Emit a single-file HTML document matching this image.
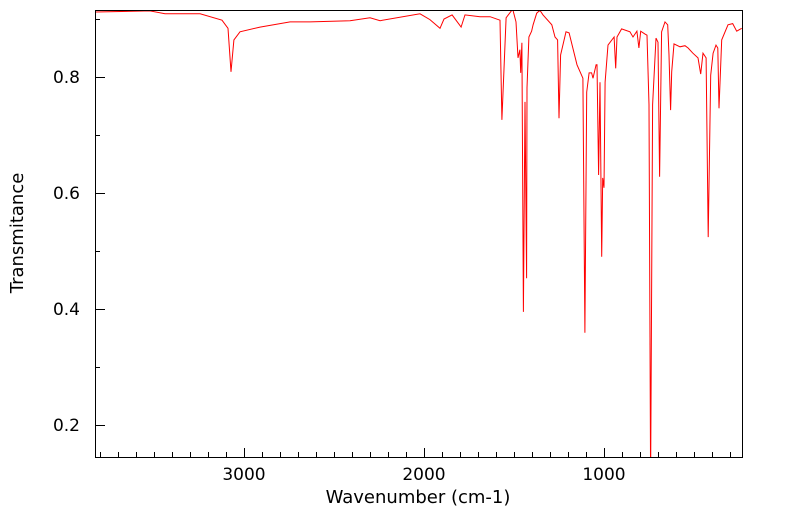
<!DOCTYPE html>
<html><head><meta charset="utf-8"><style>
html,body{margin:0;padding:0;background:#fff;}
svg{display:block;font-family:"DejaVu Sans","Liberation Sans",sans-serif;}
</style></head><body>
<svg id="chart" width="799" height="516" viewBox="0 0 799 516" xmlns="http://www.w3.org/2000/svg">
<rect x="95.5" y="10.5" width="647" height="447" fill="none" stroke="#000" stroke-width="1"/>
<g id="ticks"></g>
<g id="labels"></g>
<clipPath id="clip"><rect x="96" y="11" width="646" height="446"/></clipPath>
<path id="spec" fill="none" stroke="#ff0000" stroke-width="1" clip-path="url(#clip)"/>
<text x="418" y="503" text-anchor="middle" font-size="18">Wavenumber (cm-1)</text>
<text x="23" y="233" text-anchor="middle" font-size="18" transform="rotate(-90 23 233)">Transmitance</text>
</svg>
<script>
const wavenumbers = [3828,3522,3439,3244,3122,3089,3072,3056,3022,2911,2744,2633,2411,2300,2244,2022,1967,1911,1889,1844,1794,1772,1689,1633,1578,1567,1544,1507,1489,1478,1467,1463,1456,1448,1439,1430,1428,1417,1402,1394,1374,1356,1339,1290,1272,1258,1250,1241,1211,1194,1150,1117,1106,1096,1083,1069,1061,1044,1039,1030,1022,1013,1007,1000,994,978,944,935,928,911,902,856,839,817,806,796,772,761,750,741,730,711,700,691,680,661,646,639,630,624,611,578,550,533,506,478,463,450,433,421,407,394,378,368,361,346,311,285,263,235];
const transmittance = [0.912,0.914,0.909,0.909,0.898,0.884,0.809,0.864,0.878,0.886,0.895,0.895,0.897,0.902,0.897,0.909,0.899,0.884,0.900,0.907,0.886,0.907,0.904,0.904,0.898,0.726,0.902,0.917,0.895,0.833,0.847,0.807,0.859,0.395,0.757,0.453,0.781,0.869,0.879,0.890,0.910,0.915,0.907,0.890,0.869,0.864,0.729,0.838,0.878,0.876,0.821,0.798,0.359,0.774,0.807,0.807,0.798,0.821,0.821,0.631,0.791,0.490,0.626,0.609,0.791,0.855,0.869,0.815,0.869,0.878,0.883,0.878,0.869,0.879,0.850,0.879,0.874,0.872,0.752,0.100,0.752,0.867,0.860,0.628,0.878,0.895,0.890,0.838,0.743,0.809,0.857,0.852,0.854,0.850,0.841,0.833,0.805,0.841,0.833,0.524,0.803,0.841,0.855,0.850,0.746,0.864,0.890,0.892,0.879,0.884];
const xMajor = [3000,2000,1000];
const yMajor = [0.2,0.4,0.6,0.8];
const X = w => 244 + (3000 - w) * 0.18;
const Y = t => 77 + (0.8 - t) * 580;
const NS = "http://www.w3.org/2000/svg";
let d = "";
for (let i = 0; i < wavenumbers.length; i++) d += (i ? "L" : "M") + X(wavenumbers[i]).toFixed(1) + " " + Y(transmittance[i]).toFixed(1);
document.getElementById("spec").setAttribute("d", d);
const tg = document.getElementById("ticks"), lg = document.getElementById("labels");
function line(x1,y1,x2,y2){const l=document.createElementNS(NS,"line");l.setAttribute("x1",x1);l.setAttribute("y1",y1);l.setAttribute("x2",x2);l.setAttribute("y2",y2);l.setAttribute("stroke","#000");l.setAttribute("stroke-width","1");


tg.appendChild(l);}
for (let w = 3800; w >= 300; w -= 100) { const x = Math.round(X(w)) + 0.5; const major = w % 1000 === 0; line(x, 457, x, major ? 448 : 452); }
for (let t = 0.2; t <= 0.91; t += 0.1) { const y = Math.round(Y(t)) + 0.5; const major = Math.round(t*10) % 2 === 0; line(96, y, major ? 105 : 100, y); }
xMajor.forEach(w => { const t=document.createElementNS(NS,"text"); t.setAttribute("x",X(w)); t.setAttribute("y",480); t.setAttribute("text-anchor","middle"); t.setAttribute("font-size","17"); t.textContent=w;


lg.appendChild(t); });
yMajor.forEach(v => { const t=document.createElementNS(NS,"text"); t.setAttribute("x",80); t.setAttribute("y",Y(v)+6); t.setAttribute("text-anchor","end"); t.setAttribute("font-size","17"); t.textContent=v.toFixed(1);


lg.appendChild(t); });
</script>
</body></html>
